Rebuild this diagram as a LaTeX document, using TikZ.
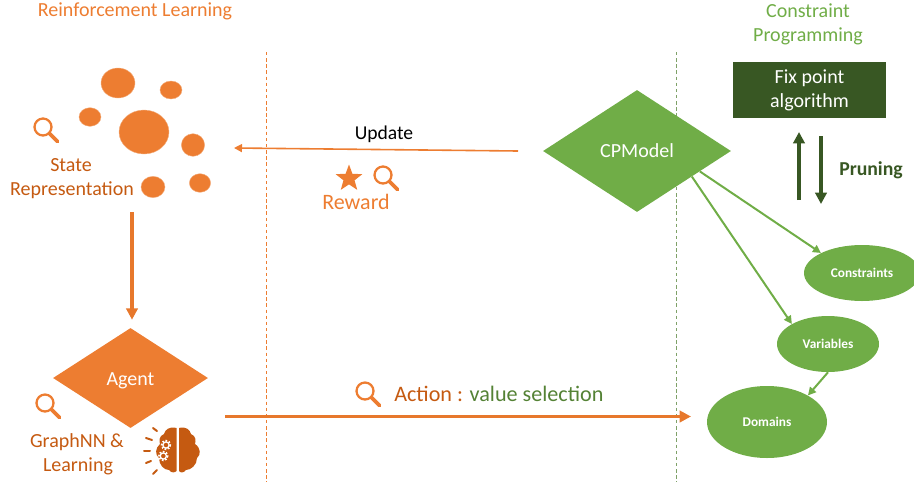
\documentclass[tikz,border=0pt]{standalone}
\usepackage{fontspec}
\setmainfont{Carlito}
\usetikzlibrary{shapes.geometric,shapes.symbols,arrows.meta}
\definecolor{orA}{HTML}{ED7D31}
\definecolor{orD}{HTML}{C55A11}
\definecolor{grA}{HTML}{70AD47}
\definecolor{grD}{HTML}{385723}
\definecolor{grM}{HTML}{548235}
\newcommand{\fs}[1]{\fontsize{#1}{#1}\selectfont}
\tikzset{
  x=0.75pt,y=-0.75pt,
  blob/.style={ellipse,fill=orA,draw=orA!60!white,line width=0.3pt,inner sep=0pt,minimum width=#1},
  dia/.style={diamond,inner sep=0pt,text=white},
  ell/.style={ellipse,fill=grA,inner sep=0pt,text=white,font=\fs{10}\bfseries},
  lab/.style={inner sep=0pt,align=center},
  glass/.pic={
    \draw[orA,line width=1.7pt,line cap=round] (0,0) circle[radius=8.5];
    \draw[orA,line width=2.8pt,line cap=round] (6.5,6.5) -- (14.5,14.5);
  },
  gear/.pic={
    \draw[white,line width=1.2pt,dash pattern=on 1.24pt off 1.23pt] (0,0) circle[radius=4.4];
    \draw[white,line width=1pt] (0,0) circle[radius=3.1];
  },
  vline/.style={dash pattern=on 2.6pt off 2pt,line width=0.7pt},
  tipo/.style={-{Triangle[length=#1,width=#1]}}
}
\begin{document}
\begin{tikzpicture}
\useasboundingbox (0,0) rectangle (914,482);
% dashed dividers
\coordinate (d1a) at (266,52); \coordinate (d1b) at (266,482);
\coordinate (d2a) at (676,52); \coordinate (d2b) at (676,482);
\draw[vline,orA] (d1a) -- (d1b);
\draw[vline,grM!75!white] (d2a) -- (d2b);
% titles
\node[lab,text=orA,font=\fs{15}] (t1) at (135,11) {Reinforcement Learning};
\node[lab,text=grA,font=\fs{15}] (t2a) at (808,11) {Constraint};
\node[lab,text=grA,font=\fs{15}] (t2b) at (808,36) {Programming};
% state blobs
\node[blob=25.5pt,minimum height=22.5pt] (b1) at (118,83) {};
\node[blob=16.5pt,minimum height=13.5pt] (b2) at (171,90) {};
\node[blob=16.5pt,minimum height=14pt] (b3) at (90,117) {};
\node[blob=37.5pt,minimum height=33pt] (b4) at (144,132) {};
\node[blob=17.5pt,minimum height=17pt] (b5) at (193,145) {};
\node[blob=18pt,minimum height=16pt] (b6) at (153,187) {};
\node[blob=16pt,minimum height=14pt] (b7) at (200,183) {};
\pic at (43,127) {glass};
\node[lab,text=orD,font=\fs{15}] (s1) at (71,165) {State};
\node[lab,text=orD,font=\fs{15}] (s2) at (72,190) {Representation};
% agent
\node[dia,fill=orA,minimum width=116.25pt,minimum height=75pt,font=\fs{15}] (agent) at (130.5,378) {\raisebox{-5.9pt}[0pt][0pt]{Agent}};
\pic at (45,403) {glass};
\node[lab,text=orD,font=\fs{15}] (g1) at (77,442) {GraphNN \&};
\node[lab,text=orD,font=\fs{15}] (g2) at (78,466) {Learning};
% brain
\fill[orD] (176.5,428) .. controls (169,426) and (165,430) .. (164,434) .. controls (159,436) and (159,441) .. (160,444) .. controls (155,448) and (155,455) .. (159,458) .. controls (159,465) and (164,470) .. (169,470) .. controls (171,473) and (175,473) .. (176.5,471) -- cycle;
\fill[orD] (179,428) .. controls (186,426) and (190,430) .. (191,434) .. controls (196,436) and (196,441) .. (195,444) .. controls (201,448) and (201,455) .. (197,458) .. controls (197,465) and (191,470) .. (186,470) .. controls (184,473) and (180,473) .. (179,471) -- cycle;
\pic at (166,445) {gear};
\pic at (163.3,456) {gear};
\foreach \xa/\ya/\xb/\yb in {153/428/157/431, 146/438/152/440, 144/451/150/451, 146/463/151/461, 153/474/157/470}
  \draw[orD,line width=1.5pt,line cap=round] (\xa,\ya) -- (\xb,\yb);
% arrow state -> agent
\coordinate (sa) at (132,212);
\draw[orA!85!orD,line width=2.3pt,tipo=8.5pt,shorten >=6pt] (sa) -- (agent.north -| sa);
% CP model
\node[dia,fill=grA,minimum width=141pt,minimum height=91.5pt,font=\fs{15}] (cp) at (637,151) {CPModel};
% update arrow
\coordinate (upend) at (234,148);
\draw[orA,line width=1.2pt,tipo=6pt] (518,151) coordinate (upst) -- (upend);
\node[lab,text=black,font=\fs{14.7}] (up) at (384,134) {Update};
\node[star,star points=5,star point ratio=2.4,fill=orA,inner sep=0pt,minimum size=21pt] (star) at (349,178.5) {};
\pic at (383,175) {glass};
\node[lab,text=orA,font=\fs{16.5}] (rw) at (356,202) {Reward};
% action arrow
\coordinate (aa) at (225,416.5); \coordinate (ab) at (691,416.5);
\draw[orA!85!orD,line width=2.5pt,tipo=8.5pt] (aa) -- (ab);
\pic at (365,391) {glass};
\node[lab,anchor=west,font=\fs{16.6}] (act) at (394,394) {\textcolor{orD}{Action :} \textcolor{grM}{value selection}};
% CP side
\node[fill=grD,text=white,minimum width=114.75pt,minimum height=42pt,inner sep=0pt,align=center,font=\fs{15}] (fix) at (809.5,90) {Fix point\\[3pt]algorithm};
\coordinate (u1) at (799,200); \coordinate (u2) at (799,132);
\coordinate (v1) at (821,136); \coordinate (v2) at (821,204);
\draw[grD,line width=2.8pt,tipo=8.5pt] (u1) -- (u2);
\draw[grD,line width=2.8pt,tipo=8.5pt] (v1) -- (v2);
\node[lab,text=grD,font=\fs{14.8}\bfseries] (pr) at (871,170) {Pruning};
\node[ell,minimum width=87pt,minimum height=42pt] (con) at (862,273) {Constraints};
\node[ell,minimum width=76.5pt,minimum height=42pt] (var) at (828,344) {Variables};
\node[ell,minimum width=90pt,minimum height=54pt] (dom) at (767,422) {Domains};
\draw[grA,line width=1.5pt,tipo=6pt] (cp.-18) -- (con.154);
\draw[grA,line width=1.5pt,tipo=6pt] (cp.-25) -- (var.151);
\draw[grA,line width=1.5pt,tipo=6pt] (var.-90) -- (dom.33);
\end{tikzpicture}
\end{document}
